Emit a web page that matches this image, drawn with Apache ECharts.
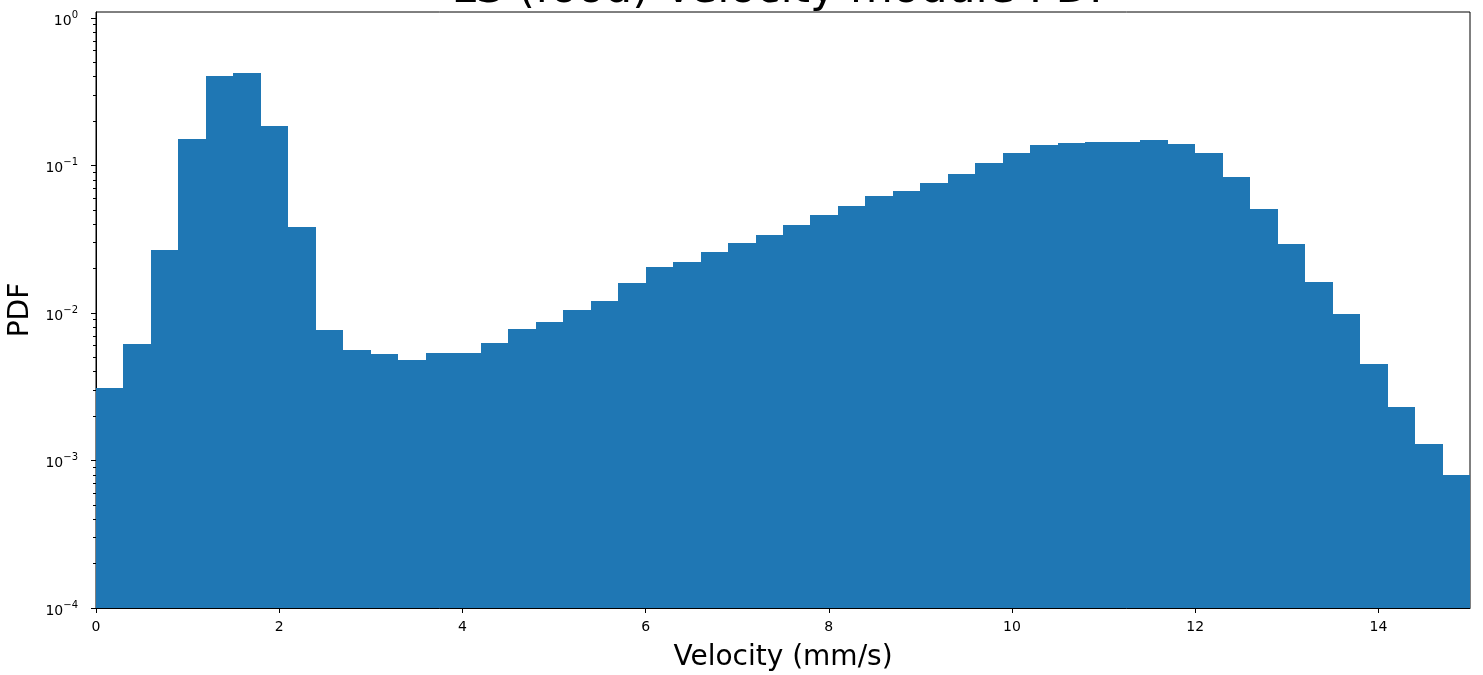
<!DOCTYPE html>
<html>
<head>
<meta charset="utf-8">
<script src="https://cdn.jsdelivr.net/npm/echarts@6/dist/echarts.min.js"></script>
<style>
html,body{margin:0;padding:0;background:#fff;}
#chart{width:1483px;height:675px;}
</style>
</head>
<body>
<div id="chart"></div>
<script>
// ---- data ----
var titleText = 'LS (food) Velocity module PDF';
var xAxisName = 'Velocity (mm/s)';
var yAxisName = 'PDF';
var binEdges = [0, 0.3, 0.6, 0.9, 1.2, 1.5, 1.8, 2.1, 2.4, 2.7, 3.0, 3.3, 3.6, 3.9, 4.2, 4.5, 4.8, 5.1, 5.4, 5.7,
  6.0, 6.3, 6.6, 6.9, 7.2, 7.5, 7.8, 8.1, 8.4, 8.7, 9.0, 9.3, 9.6, 9.9, 10.2, 10.5, 10.8, 11.1, 11.4, 11.7,
  12.0, 12.3, 12.6, 12.9, 13.2, 13.5, 13.8, 14.1, 14.4, 14.7, 15.0];
var pdf = [0.00308, 0.00617, 0.0267, 0.151, 0.405, 0.424, 0.185, 0.0381, 0.00767, 0.00561,
  0.00527, 0.00480, 0.00536, 0.00536, 0.00627, 0.00780, 0.00869, 0.01047, 0.01205, 0.01595,
  0.0205, 0.0222, 0.0259, 0.0299, 0.0338, 0.0395, 0.0461, 0.0531, 0.0621, 0.0671,
  0.0760, 0.0875, 0.104, 0.1216, 0.1377, 0.1423, 0.1443, 0.1443, 0.149, 0.140,
  0.1216, 0.0836, 0.0507, 0.0294, 0.0162, 0.00984, 0.00451, 0.00231, 0.00129, 0.000798];
var xTicks = [0, 2, 4, 6, 8, 10, 12, 14];
var yTicks = [1e-4, 1e-3, 1e-2, 1e-1, 1];
var yMinorTicks = [];
[1e-4, 1e-3, 1e-2, 1e-1].forEach(function (d) { for (var k = 2; k <= 9; k++) yMinorTicks.push(+(d * k).toPrecision(3)); });
var xMin = 0, xMax = 15, yMin = 1e-4, yMax = 1.098;

// ---- chart ----
var barData = pdf.map(function (v, i) { return [binEdges[i], binEdges[i + 1], v]; });
function expLabel(v) {
  var e = Math.round(Math.log10(v));
  var s = String(e).replace('-', '\u2212');
  return '{b|10}{s|' + s + '}';
}
var chart = echarts.init(document.getElementById('chart'), null, {renderer: 'canvas'});
var FONT = 'DejaVu Sans';
var GRID = {left: 96, right: 13, top: 12, bottom: 67};
chart.setOption({
  backgroundColor: '#ffffff',
  animation: false,
  textStyle: {fontFamily: FONT},
  grid: {left: GRID.left, right: GRID.right, top: GRID.top, bottom: GRID.bottom,
    outerBoundsMode: 'none', containLabel: false,
    show: true, borderColor: '#000', borderWidth: 1, backgroundColor: 'transparent'},
  graphic: [{
    type: 'text', x: (GRID.left + (1483 - GRID.right)) / 2, y: -31, z: -1,
    style: {text: titleText, fontSize: 44, fontFamily: FONT, fill: '#000', textAlign: 'center', textVerticalAlign: 'top'}
  }],
  xAxis: {
    type: 'value', min: xMin, max: xMax,
    name: xAxisName, nameLocation: 'middle', nameGap: 36,
    nameTextStyle: {fontSize: 28, color: '#000', fontFamily: FONT},
    splitLine: {show: false},
    axisLine: {show: true, lineStyle: {color: '#000', width: 1}},
    axisTick: {show: true, length: 5, lineStyle: {color: '#000', width: 1}, customValues: xTicks},
    axisLabel: {color: '#000', fontSize: 14, margin: 12, customValues: xTicks, fontFamily: FONT}
  },
  yAxis: [{
    type: 'log', logBase: 10, min: yMin, max: yMax,
    name: yAxisName, nameLocation: 'middle', nameGap: 58,
    nameTextStyle: {fontSize: 28, color: '#000', fontFamily: FONT},
    splitLine: {show: false},
    axisLine: {show: true, lineStyle: {color: '#000', width: 1}},
    axisTick: {show: true, length: 5, lineStyle: {color: '#000', width: 1}, customValues: yTicks},
    axisLabel: {
      color: '#000', margin: 18, customValues: yTicks,
      formatter: function (v) { return expLabel(v); },
      rich: {
        b: {fontSize: 14, fontFamily: FONT, color: '#000', padding: [6, 0, 0, 0]},
        s: {fontSize: 10, fontFamily: FONT, color: '#000', padding: [0, 0, 6, 0]}
      }
    }
  }, {
    type: 'log', logBase: 10, min: yMin, max: yMax, position: 'left',
    splitLine: {show: false},
    axisLine: {show: false},
    axisLabel: {show: false},
    axisTick: {show: true, length: 3, lineStyle: {color: '#000', width: 1}, customValues: yMinorTicks}
  }],
  series: [{
    type: 'custom',
    xAxisIndex: 0, yAxisIndex: 0,
    clip: true,
    data: barData,
    encode: {x: [0, 1], y: 2},
    renderItem: function (params, api) {
      var p0 = api.coord([api.value(0), api.value(2)]);
      var p1 = api.coord([api.value(1), yMin]);
      var x0 = Math.round(p0[0]), x1 = Math.round(p1[0]);
      var y0 = Math.round(p0[1]), y1 = Math.round(p1[1]);
      return {
        type: 'rect',
        shape: {x: x0, y: y0, width: x1 - x0, height: y1 - y0},
        style: {fill: '#1f77b4'}
      };
    },
    z: 1
  }]
});
</script>
</body>
</html>
